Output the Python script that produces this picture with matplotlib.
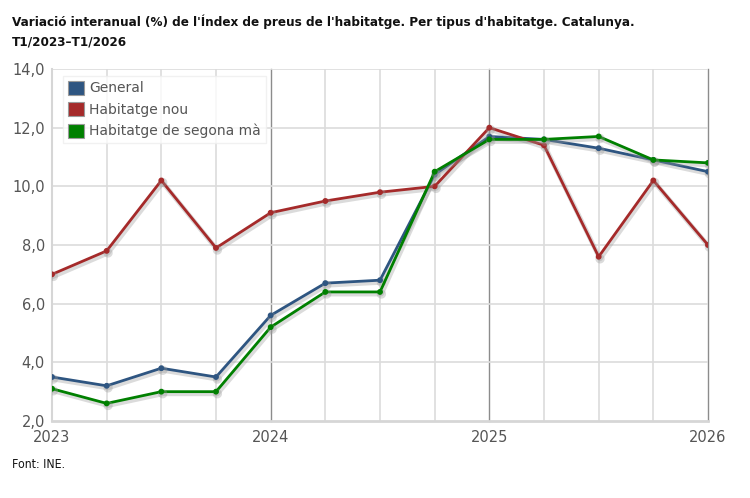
import matplotlib
matplotlib.use("Agg")
import matplotlib.pyplot as plt
import matplotlib.patheffects as pe
from matplotlib.patches import Patch

quarters = ["T1/2023", "T2/2023", "T3/2023", "T4/2023",
            "T1/2024", "T2/2024", "T3/2024", "T4/2024",
            "T1/2025", "T2/2025", "T3/2025", "T4/2025", "T1/2026"]
general = [3.5, 3.2, 3.8, 3.5, 5.6, 6.7, 6.8, 10.4, 11.7, 11.6, 11.3, 10.9, 10.5]
nou = [7.0, 7.8, 10.2, 7.9, 9.1, 9.5, 9.8, 10.0, 12.0, 11.4, 7.6, 10.2, 8.0]
segona = [3.1, 2.6, 3.0, 3.0, 5.2, 6.4, 6.4, 10.5, 11.6, 11.6, 11.7, 10.9, 10.8]
series_names = ["General", "Habitatge nou", "Habitatge de segona mà"]
colors = ["#2e5581", "#a52a2a", "#008000"]
year_labels = ["2023", "2024", "2025", "2026"]
y_ticks = [2, 4, 6, 8, 10, 12, 14]

fig = plt.figure(figsize=(7.5, 4.98), dpi=100)
ax = fig.add_axes([52/750, 1-421/498, 656/750, 352/498])

x = list(range(len(quarters)))
ax.set_xlim(0, len(quarters) - 1)
ax.set_ylim(2, 14)

# grid
for xi in x:
    if xi % 4 == 0 and xi > 0:
        ax.axvline(xi, color="#8c8c8c", lw=1.0, zorder=1, clip_on=False)
    elif xi > 0:
        ax.axvline(xi, color="#dcdcdc", lw=1.2, zorder=1)
for yv in y_ticks[1:]:
    ax.axhline(yv, color="#dcdcdc", lw=1.2, zorder=1)

shadow = [pe.SimpleLineShadow(offset=(1.0, -1.5), shadow_color="#999999", alpha=0.35, linewidth=3.5),
          pe.Normal()]
for data, c, name in zip([general, nou, segona], colors, series_names):
    ax.plot(x, data, color=c, lw=2.0, marker="o", markersize=3.2, zorder=3,
            path_effects=shadow, label=name)

for s in ["top", "right"]:
    ax.spines[s].set_visible(False)
ax.spines["left"].set_color("#d6d6d6")
ax.spines["left"].set_linewidth(1.5)
ax.spines["bottom"].set_color("#d6d6d6")
ax.spines["bottom"].set_linewidth(2)

ax.set_yticks(y_ticks)
ax.set_yticklabels([f"{v:.1f}".replace(".", ",") for v in y_ticks])
ax.set_xticks([0, 4, 8, 12])
ax.set_xticklabels(year_labels)
ax.tick_params(axis="both", length=0, colors="#555555", labelsize=10.5)
ax.tick_params(axis="y", pad=5)
ax.tick_params(axis="x", pad=6.5)

handles = [Patch(facecolor=c, edgecolor="#9a9a9a", lw=0.8) for c in colors]
leg = ax.legend(handles, series_names, loc="upper left", bbox_to_anchor=(0.006, 1.0),
                frameon=True, fontsize=10, handlelength=1.15, handleheight=1.15,
                handletextpad=0.4, labelspacing=0.5, borderpad=0.35, fancybox=False)
leg.get_frame().set_edgecolor("#eeeeee")
leg.get_frame().set_linewidth(1)
for t in leg.get_texts():
    t.set_color("#555555")

fig.text(12/750, 1-22/498, "Variació interanual (%) de l'Índex de preus de l'habitatge. Per tipus d'habitatge. Catalunya.",
         fontsize=9.6, fontweight="bold", color="#111111", va="center", ha="left", fontstretch="condensed")
fig.text(12/750, 1-42/498, "T1/2023–T1/2026",
         fontsize=9.6, fontweight="bold", color="#111111", va="center", ha="left", fontstretch="condensed")
fig.text(12/750, 1-465/498, "Font: INE.", fontsize=8.8, color="#111111", va="center", ha="left",
         fontstretch="condensed")

fig.savefig("out.png", dpi=100)
